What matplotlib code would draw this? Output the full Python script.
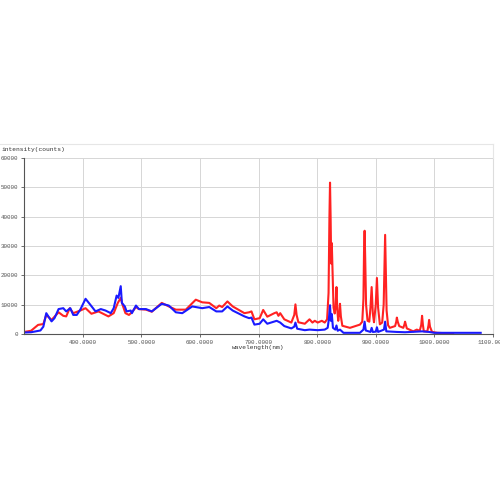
import matplotlib.pyplot as plt
import numpy as np

# spectrum 1 (red) - wavelength (nm) / intensity (counts)
red_wl = [300, 312, 324, 333, 338, 347, 359, 367, 372, 378, 384, 396, 405, 415, 427,
          439, 444, 453, 460, 465, 468, 473, 479, 484, 491, 496, 508, 518, 535, 547,
          559, 576, 593, 604, 616, 628, 633, 638, 647, 656, 676, 684, 688, 693, 702,
          708, 715, 727, 731, 734, 737, 744, 756, 761, 763, 765, 768, 779, 787, 792, 796, 801,
          808, 813, 817, 819.5, 821, 822, 823, 824, 825, 826.5, 828, 830, 831.5, 833, 834.5, 836,
          838, 839, 840.5, 843, 856, 873, 877, 879, 880, 881, 882, 883.5, 886, 889, 891, 893,
          895, 897, 900, 902, 904, 907, 911, 913.5, 915, 916, 917, 918.5, 921, 924, 933,
          935, 936, 937.5, 940, 947, 949, 950, 951.5, 953, 964, 970, 975, 977.5, 979, 980.5, 982,
          988, 990, 991, 992.5, 996, 1005, 1022, 1032]
red_int = [700, 1100, 3100, 3400, 6500, 4800, 7400, 6200, 6000, 8800, 7100, 8000, 8800, 6900, 7700,
           6500, 6000, 7100, 10600, 12300, 10000, 7100, 6500, 7400, 9200, 8500, 8300, 7600, 10600, 9400,
           8300, 8300, 11700, 10800, 10600, 8800, 9700, 9200, 11100, 9400, 7100, 7400, 7700, 5000, 5400,
           8200, 5900, 7100, 7400, 6200, 7100, 5000, 3900, 6500, 10100, 6500, 4000, 3500, 5000, 3900, 4500, 3900,
           4500, 3900, 5000, 14000, 40000, 51600, 40000, 24000, 31000, 20000, 9000, 7000, 9500, 16000, 8000, 4500,
           7500, 10300, 6000, 2800, 2100, 3200, 4200, 12000, 28000, 35200, 26000, 10000, 4500, 4200, 9000, 16000,
           7000, 4000, 10000, 19100, 9000, 3300, 3900, 10000, 24000, 33800, 24000, 8000, 3000, 2100, 2700,
           4200, 5600, 4200, 2700, 2100, 3300, 4200, 3000, 1900, 900, 1500, 1100, 3000, 6200, 3000, 900,
           900, 3000, 4800, 2500, 700, 400, 250, 250]

# spectrum 2 (blue)
blue_wl = [300, 312, 328, 333, 338, 347, 352, 359, 367, 372, 379, 384, 390, 396, 405,
           413, 422, 431, 439, 448, 453, 458, 461, 465, 467, 472, 475, 482, 484, 491,
           496, 508, 518, 535, 547, 559, 570, 587, 604, 616, 628, 638, 647, 656, 676,
           684, 688, 693, 702, 708, 715, 731, 737, 744, 756, 761, 763, 766, 779, 787, 801,
           813, 818, 820, 822, 823.5, 825, 827, 831, 833, 835, 839, 845, 873, 879, 881, 883,
           891, 893, 895, 900, 902, 904, 914, 916, 918, 936, 950, 979, 991, 1000, 1079]
blue_int = [500, 600, 1200, 2500, 7100, 4300, 5400, 8500, 8800, 7700, 8800, 6500, 6500, 8300, 12000,
            10000, 7700, 8500, 8000, 7100, 8800, 13100, 12300, 16300, 10600, 9400, 7700, 8000, 7100, 9700,
            8500, 8500, 7700, 10300, 9700, 7400, 7100, 9400, 8800, 9200, 7700, 7700, 9400, 8000, 6000,
            5400, 5600, 3200, 3500, 5000, 3500, 4500, 3900, 2700, 1900, 2500, 3900, 1800, 1300, 1500, 1300,
            1500, 2100, 5000, 9800, 4500, 6800, 2100, 1500, 2900, 1100, 1500, 400, 400, 1500, 4200, 1200,
            700, 2100, 700, 800, 2300, 700, 1500, 4200, 900, 700, 600, 900, 700, 400, 400]

x_ticks = [400, 500, 600, 700, 800, 900, 1000, 1100]
y_ticks = [0, 10000, 20000, 30000, 40000, 50000, 60000]

fig = plt.figure(figsize=(5, 5), dpi=100)
ax = fig.add_axes([0.048, 0.332, 0.938, 0.352])

ax.plot(red_wl, red_int, color='#ff2222', lw=1.5)
ax.plot(blue_wl, blue_int, color='#1a1aff', lw=1.5)

ax.set_xlim(300, 1100)
ax.set_ylim(0, 60000)
ax.set_xticks(x_ticks)
ax.set_xticklabels(['%.4f' % t for t in x_ticks])
ax.set_yticks(y_ticks)
ax.set_yticklabels([str(t) for t in y_ticks])
ax.tick_params(labelsize=4.2, colors='#555555', length=2, width=0.6, pad=2)
for lbl in ax.get_xticklabels() + ax.get_yticklabels():
    lbl.set_family('Liberation Mono')

ax.grid(True, color='#d6d6d6', lw=0.7)
ax.set_axisbelow(True)
ax.spines['top'].set_visible(False)
ax.spines['right'].set_color('#dddddd')
ax.spines['left'].set_color('#555555')
ax.spines['bottom'].set_color('#555555')
ax.spines['left'].set_linewidth(0.8)
ax.spines['bottom'].set_linewidth(0.8)

fig.text(0.004, 0.702, 'intensity(counts)', fontsize=4.5, family='Liberation Mono',
         color='#333333', va='center', ha='left')
fig.text(0.516, 0.306, 'wavelength(nm)', fontsize=4.5, family='Liberation Mono',
         color='#333333', va='center', ha='center')

# outer frame lines of the original window
fig.add_artist(plt.Line2D([0, 0.986], [0.712, 0.712], color='#e6e6e6', lw=0.8))
fig.add_artist(plt.Line2D([0.986, 0.986], [0.684, 0.712], color='#e6e6e6', lw=0.8))

fig.savefig('out.png', dpi=100)
